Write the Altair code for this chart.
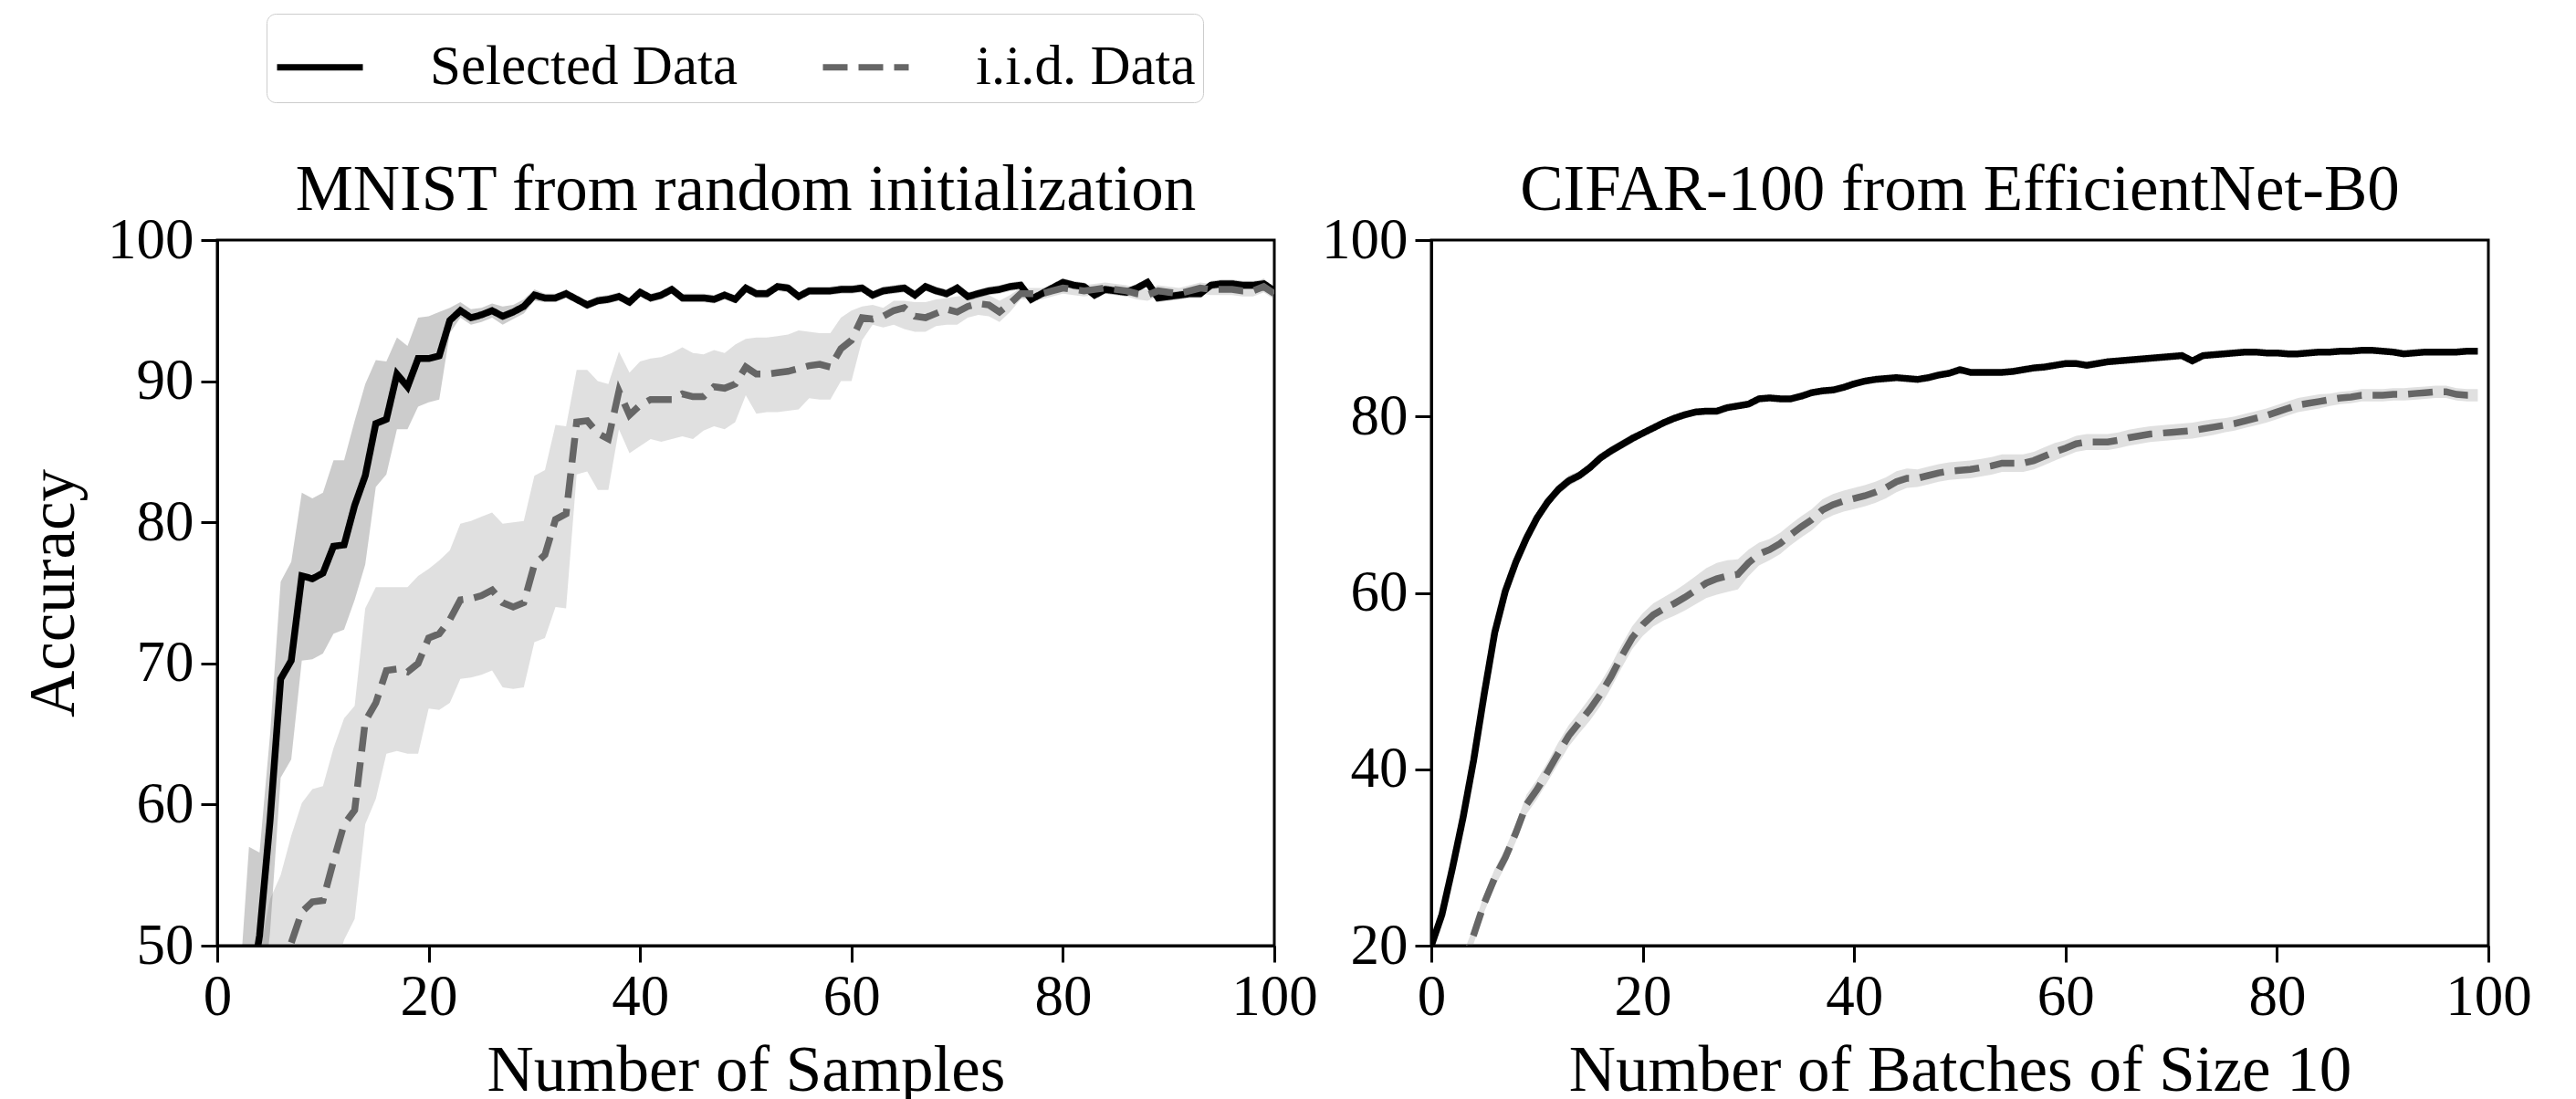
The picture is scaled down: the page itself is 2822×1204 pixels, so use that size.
import altair as alt
import pandas as pd

SERIES = ["Selected Data", "i.i.d. Data"]
FONT = "Liberation Serif"
FS_TITLE = 71
FS_TICK = 63
FS_LEG = 61

# ---------------- Left panel: MNIST from random initialization ----------------
mn_x = list(range(1, 101))
mn_sel = [25.0, 35.0, 46.0, 50.7, 58.9, 68.9, 70.2, 76.2, 76.0, 76.4,
          78.3, 78.4, 81.2, 83.3, 87.0, 87.3, 90.5, 89.6, 91.6, 91.6,
          91.8, 94.3, 95.0, 94.5, 94.7, 95.0, 94.6, 94.9, 95.3, 96.1,
          95.9, 95.9, 96.2, 95.8, 95.4, 95.7, 95.8, 96.0, 95.6, 96.3,
          95.9, 96.1, 96.5, 95.9, 95.9, 95.9, 95.8, 96.1, 95.8, 96.6,
          96.2, 96.2, 96.7, 96.6, 96.0, 96.4, 96.4, 96.4, 96.5, 96.5,
          96.6, 96.1, 96.4, 96.5, 96.6, 96.1, 96.7, 96.4, 96.2, 96.6,
          96.0, 96.2, 96.4, 96.5, 96.7, 96.8, 95.8, 96.2, 96.6, 97.0,
          96.8, 96.7, 96.1, 96.5, 96.4, 96.3, 96.6, 97.0, 95.9, 96.0,
          96.1, 96.2, 96.2, 96.8, 96.9, 96.9, 96.8, 96.8, 96.9, 96.4]
mn_sel_lo = [12.0, 24.0, 35.0, 44.0, 51.0, 61.9, 63.2, 70.2, 70.3, 70.7,
             72.1, 72.4, 74.5, 77.0, 82.5, 83.4, 86.6, 86.6, 88.2, 88.5,
             88.7, 93.4, 94.5, 94.0, 94.2, 94.5, 94.0, 94.4, 94.8, 95.7,
             95.6, 95.6, 95.9, 95.5, 95.1, 95.4, 95.5, 95.7, 95.3, 96.0,
             95.6, 95.8, 96.2, 95.6, 95.6, 95.6, 95.5, 95.8, 95.5, 96.3,
             95.9, 95.9, 96.4, 96.3, 95.7, 96.1, 96.1, 96.1, 96.2, 96.2,
             96.3, 95.8, 96.1, 96.2, 96.3, 95.8, 96.4, 96.1, 95.9, 96.3,
             95.7, 95.9, 96.1, 96.2, 96.4, 96.5, 95.5, 95.9, 96.3, 96.7,
             96.5, 96.4, 95.8, 96.2, 96.1, 96.0, 96.3, 96.7, 95.6, 95.7,
             95.8, 95.9, 95.9, 96.5, 96.6, 96.6, 96.5, 96.5, 96.6, 96.1]
mn_sel_hi = [38.0, 46.0, 57.0, 56.6, 65.0, 75.8, 77.2, 82.1, 81.7, 82.1,
             84.4, 84.4, 87.2, 89.8, 91.5, 91.4, 93.1, 92.5, 94.5, 94.6,
             94.9, 95.2, 95.6, 95.1, 95.2, 95.5, 95.3, 95.4, 95.8, 96.5,
             96.2, 96.2, 96.5, 96.1, 95.7, 96.0, 96.1, 96.3, 95.9, 96.6,
             96.2, 96.4, 96.8, 96.2, 96.2, 96.2, 96.1, 96.4, 96.1, 96.9,
             96.5, 96.5, 97.0, 96.9, 96.3, 96.7, 96.7, 96.7, 96.8, 96.8,
             96.9, 96.4, 96.7, 96.8, 96.9, 96.4, 97.0, 96.7, 96.5, 96.9,
             96.3, 96.5, 96.7, 96.8, 97.0, 97.1, 96.1, 96.5, 96.9, 97.3,
             97.1, 97.0, 96.4, 96.8, 96.7, 96.6, 96.9, 97.3, 96.2, 96.3,
             96.4, 96.5, 96.5, 97.1, 97.2, 97.2, 97.1, 97.1, 97.2, 96.7]
mn_iid = [28.0, 33.0, 38.0, 42.0, 45.0, 48.0, 50.2, 52.4, 53.1, 53.2,
          56.0, 58.6, 59.6, 65.9, 67.2, 69.5, 69.6, 69.4, 70.0, 71.8,
          72.1, 73.1, 74.5, 74.6, 74.8, 75.2, 74.3, 74.0, 74.3, 77.0,
          77.7, 80.2, 80.6, 87.1, 87.2, 86.3, 85.9, 89.3, 87.6, 88.3,
          88.7, 88.7, 88.7, 89.1, 88.9, 88.9, 89.6, 89.5, 89.8, 91.0,
          90.5, 90.5, 90.6, 90.7, 90.9, 91.1, 91.2, 91.0, 92.3, 92.9,
          94.5, 94.4, 94.6, 95.0, 95.2, 94.6, 94.5, 94.8, 95.1, 94.9,
          95.3, 95.5, 95.4, 94.9, 95.5, 96.2, 96.2, 96.2, 96.4, 96.6,
          96.5, 96.4, 96.5, 96.6, 96.5, 96.4, 96.2, 96.1, 96.4, 96.3,
          96.2, 96.4, 96.6, 96.5, 96.5, 96.5, 96.4, 96.4, 96.7, 96.2]
mn_iid_lo = [15.0, 20.0, 25.0, 30.0, 34.0, 38.0, 40.0, 42.0, 44.0, 45.5,
             48.0, 50.4, 51.9, 58.6, 60.4, 63.6, 63.8, 63.6, 63.6, 66.8,
             66.7, 67.2, 68.9, 69.0, 69.2, 69.5, 68.3, 68.2, 68.3, 71.5,
             71.8, 74.0, 73.9, 83.4, 83.6, 82.3, 82.3, 86.6, 84.9, 85.4,
             85.9, 85.7, 85.9, 86.1, 85.9, 86.5, 86.8, 86.6, 87.1, 89.0,
             87.7, 87.8, 87.8, 87.9, 88.0, 88.8, 88.7, 88.7, 90.0, 90.0,
             92.9, 94.0, 93.8, 94.0, 93.7, 93.5, 93.5, 93.9, 94.0, 94.0,
             94.5, 94.7, 94.6, 94.2, 94.9, 95.8, 95.8, 95.8, 96.0, 96.2,
             96.1, 96.0, 96.1, 96.2, 96.1, 96.0, 95.8, 95.7, 96.0, 95.9,
             95.8, 96.0, 96.2, 96.1, 96.1, 96.1, 96.0, 96.0, 96.3, 95.8]
mn_iid_hi = [40.0, 44.0, 47.0, 49.5, 53.3, 55.0, 57.8, 60.1, 61.1, 61.3,
             64.0, 66.1, 67.0, 73.9, 75.4, 75.4, 75.4, 75.4, 76.2, 76.7,
             77.3, 78.0, 79.9, 80.1, 80.4, 80.7, 79.9, 80.0, 80.1, 83.3,
             83.7, 86.9, 86.8, 90.8, 90.8, 90.0, 89.8, 92.1, 90.6, 91.4,
             91.6, 91.7, 92.0, 92.4, 92.0, 91.9, 92.2, 92.0, 92.6, 93.0,
             93.1, 93.1, 93.2, 93.3, 93.6, 93.5, 93.4, 93.4, 94.5, 95.0,
             95.3, 95.4, 95.2, 95.7, 95.7, 95.6, 95.6, 95.8, 95.9, 96.0,
             96.1, 96.2, 96.1, 95.7, 96.1, 96.6, 96.6, 96.6, 96.8, 97.0,
             96.9, 96.8, 96.9, 97.0, 96.9, 96.8, 96.6, 96.5, 96.8, 96.7,
             96.6, 96.8, 97.0, 96.9, 96.9, 96.9, 96.8, 96.8, 97.3, 96.6]

# ---------------- Right panel: CIFAR-100 from EfficientNet-B0 ----------------
cf_x = list(range(0, 100))
cf_sel = [20.0, 23.5, 28.8, 34.5, 41.0, 48.5, 55.5, 60.2, 63.5, 66.2,
          68.5, 70.3, 71.7, 72.7, 73.3, 74.2, 75.3, 76.1, 76.8, 77.5,
          78.1, 78.7, 79.3, 79.8, 80.2, 80.5, 80.6, 80.6, 81.0, 81.2,
          81.4, 82.0, 82.1, 82.0, 82.0, 82.3, 82.7, 82.9, 83.0, 83.3,
          83.7, 84.0, 84.2, 84.3, 84.4, 84.3, 84.2, 84.4, 84.7, 84.9,
          85.3, 85.0, 85.0, 85.0, 85.0, 85.1, 85.3, 85.5, 85.6, 85.8,
          86.0, 86.0, 85.8, 86.0, 86.2, 86.3, 86.4, 86.5, 86.6, 86.7,
          86.8, 86.9, 86.3, 86.9, 87.0, 87.1, 87.2, 87.3, 87.3, 87.2,
          87.2, 87.1, 87.1, 87.2, 87.3, 87.3, 87.4, 87.4, 87.5, 87.5,
          87.4, 87.3, 87.1, 87.2, 87.3, 87.3, 87.3, 87.3, 87.4, 87.4]
cf_sel_err = [0.3, 0.3, 0.3, 0.3, 0.3, 0.3, 0.4, 0.4, 0.4, 0.5,
              0.5, 0.5, 0.6, 0.6, 0.5, 0.5, 0.5, 0.5, 0.5, 0.5,
              0.4, 0.4, 0.4, 0.4, 0.4, 0.4, 0.3, 0.3, 0.3, 0.3,
              0.3, 0.3, 0.3, 0.3, 0.3, 0.3, 0.3, 0.3, 0.3, 0.3,
              0.3, 0.3, 0.3, 0.3, 0.3, 0.3, 0.3, 0.3, 0.3, 0.3,
              0.3, 0.3, 0.3, 0.3, 0.3, 0.3, 0.3, 0.3, 0.3, 0.3,
              0.3, 0.3, 0.3, 0.3, 0.3, 0.3, 0.3, 0.3, 0.3, 0.3,
              0.3, 0.3, 0.3, 0.3, 0.3, 0.3, 0.3, 0.3, 0.3, 0.3,
              0.3, 0.3, 0.3, 0.3, 0.3, 0.3, 0.3, 0.3, 0.3, 0.3,
              0.3, 0.3, 0.3, 0.3, 0.3, 0.3, 0.3, 0.3, 0.3, 0.3]
cf_iid = [10.0, 12.5, 15.0, 18.0, 21.2, 24.8, 27.7, 30.0, 32.8, 36.0,
          37.7, 39.7, 41.8, 43.8, 45.3, 46.8, 48.5, 50.5, 52.8, 54.9,
          56.4, 57.5, 58.2, 58.8, 59.5, 60.3, 61.1, 61.6, 61.9, 62.1,
          63.4, 64.4, 64.9, 65.6, 66.6, 67.5, 68.3, 69.4, 70.0, 70.4,
          70.7, 71.0, 71.4, 71.9, 72.6, 73.0, 73.0, 73.3, 73.6, 73.8,
          73.9, 74.0, 74.2, 74.4, 74.7, 74.7, 74.7, 75.0, 75.5, 76.0,
          76.4, 76.9, 77.1, 77.1, 77.1, 77.3, 77.6, 77.8, 78.0, 78.1,
          78.2, 78.3, 78.4, 78.6, 78.8, 79.0, 79.2, 79.5, 79.8, 80.1,
          80.5, 80.9, 81.3, 81.5, 81.7, 81.9, 82.1, 82.2, 82.4, 82.4,
          82.4, 82.5, 82.5, 82.6, 82.7, 82.8, 82.8, 82.5, 82.4, 82.4]
cf_iid_err = [1.0, 1.0, 1.0, 1.0, 1.0, 1.0, 1.0, 1.0, 1.0, 1.1,
              1.1, 1.1, 1.2, 1.2, 1.2, 1.3, 1.3, 1.3, 1.3, 1.3,
              1.3, 1.3, 1.3, 1.4, 1.5, 1.6, 1.7, 1.8, 1.8, 1.7,
              1.5, 1.3, 1.2, 1.2, 1.2, 1.2, 1.2, 1.2, 1.2, 1.2,
              1.2, 1.2, 1.2, 1.2, 1.2, 1.1, 1.0, 1.0, 1.0, 1.0,
              1.0, 1.0, 1.0, 1.0, 1.0, 1.0, 1.0, 1.0, 1.0, 1.0,
              0.9, 0.9, 0.9, 0.9, 0.9, 0.9, 0.9, 0.9, 0.9, 0.9,
              0.9, 0.9, 0.9, 0.9, 0.9, 0.8, 0.8, 0.8, 0.8, 0.8,
              0.8, 0.8, 0.8, 0.8, 0.8, 0.7, 0.7, 0.7, 0.7, 0.7,
              0.7, 0.7, 0.7, 0.7, 0.7, 0.7, 0.7, 0.7, 0.7, 0.7]


def long_df(xs, sel, sel_lo, sel_hi, iid, iid_lo, iid_hi):
    rows = []
    for i, x in enumerate(xs):
        rows.append({"x": x, "v": sel[i], "lo": sel_lo[i], "hi": sel_hi[i], "series": SERIES[0]})
        rows.append({"x": x, "v": iid[i], "lo": iid_lo[i], "hi": iid_hi[i], "series": SERIES[1]})
    return pd.DataFrame(rows)


mn_df = long_df(mn_x, mn_sel, mn_sel_lo, mn_sel_hi, mn_iid, mn_iid_lo, mn_iid_hi)
cf_df = long_df(cf_x, cf_sel,
                [v - e for v, e in zip(cf_sel, cf_sel_err)],
                [v + e for v, e in zip(cf_sel, cf_sel_err)],
                cf_iid,
                [v - e for v, e in zip(cf_iid, cf_iid_err)],
                [v + e for v, e in zip(cf_iid, cf_iid_err)])

PAD_LEFT = 22
PAD_TOP = 14
PLOT_LEFT = 236   # where the left panel's plot area starts
PLOT_TOP = 262

color_scale = alt.Scale(domain=SERIES, range=["#000000", "#666666"])
dash_scale = alt.Scale(domain=SERIES, range=[[1, 0], [27, 12]])

# legend position is relative to the left panel's plot origin
legend = alt.Legend(
    title=None, orient="none", legendX=290 - PLOT_LEFT, legendY=14 - PLOT_TOP,
    direction="horizontal", symbolType="stroke", symbolSize=8836,
    symbolStrokeWidth=7, labelFont=FONT, labelFontSize=FS_LEG, labelColor="black",
    labelOffset=70, columnPadding=78, padding=8, strokeColor="#cccccc",
    cornerRadius=10, fillColor="white", labelLimit=2000,
)

BAND_FILL = {SERIES[0]: "#000000", SERIES[1]: "#666666"}


def panel(df, ydom, yticks, title, xtitle, ytitle):
    xenc = alt.X("x:Q", scale=alt.Scale(domain=[0, 100], nice=False),
                 axis=alt.Axis(values=[0, 20, 40, 60, 80, 100], title=xtitle))
    yaxis = alt.Axis(values=yticks, title=ytitle) if ytitle else alt.Axis(values=yticks, title=None)
    yscale = alt.Scale(domain=ydom, nice=False)
    base = alt.Chart(df)
    bands = [
        base.transform_filter(alt.datum.series == s).mark_area(
            opacity=0.2, clip=True, color=BAND_FILL[s]
        ).encode(
            x=xenc,
            y=alt.Y("lo:Q", scale=yscale, axis=yaxis),
            y2="hi:Q",
        )
        for s in SERIES
    ]
    line = base.mark_line(clip=True, strokeWidth=7.5).encode(
        x=xenc,
        y=alt.Y("v:Q", scale=yscale, axis=yaxis),
        color=alt.Color("series:N", scale=color_scale, legend=legend, sort=SERIES),
        strokeDash=alt.StrokeDash("series:N", scale=dash_scale, legend=legend, sort=SERIES),
        order=alt.Order("x:Q"),
    )
    return alt.layer(*bands, line).properties(
        width=1158, height=773,
        title=alt.TitleParams(title, font=FONT, fontSize=FS_TITLE, fontWeight="normal",
                              color="black", offset=-13),
    )


left = panel(mn_df, [50, 100], [50, 60, 70, 80, 90, 100],
             "MNIST from random initialization", "Number of Samples", "Accuracy")
right = panel(cf_df, [20, 100], [20, 40, 60, 80, 100],
              "CIFAR-100 from EfficientNet-B0", "Number of Batches of Size 10", None)

chart = alt.hconcat(left, right, spacing=1).properties(
    padding={"left": PAD_LEFT, "top": PAD_TOP, "right": 10, "bottom": 10},
    background="white",
).configure_axis(
    labelFont=FONT, labelFontSize=FS_TICK, labelColor="black",
    titleFont=FONT, titleFontSize=FS_TITLE, titleFontWeight="normal", titleColor="black",
    domainColor="black", domainWidth=3, tickColor="black", tickWidth=3, tickSize=18,
    grid=False, labelPadding=8, labelFlush=False, labelOverlap=False,
).configure_axisY(titlePadding=22).configure_axisX(titlePadding=14, labelPadding=7).configure_view(
    stroke="black", strokeWidth=3,
)

chart.save("out.html", embed_options={"renderer": "svg", "actions": False})
